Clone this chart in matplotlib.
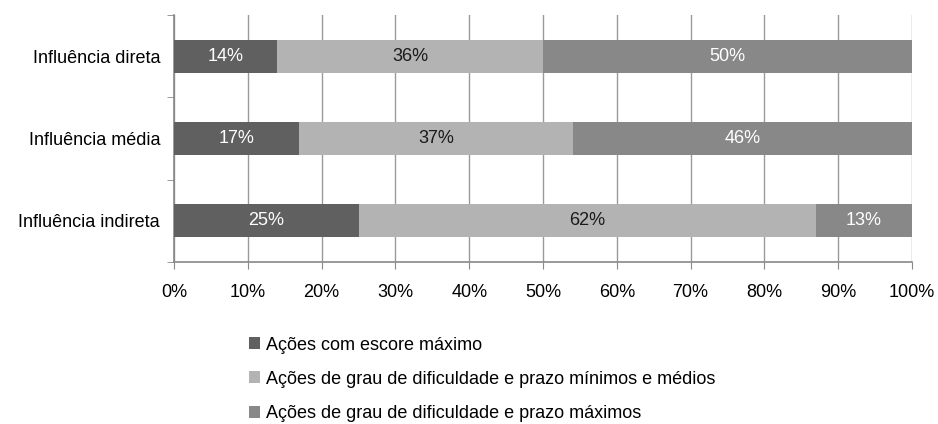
import numpy as np
import matplotlib.pyplot as plt
from matplotlib.patches import Patch

plt.rcParams['font.family'] = ['Liberation Sans', 'DejaVu Sans']

categorias = ['Influência indireta', 'Influência média', 'Influência direta']
escore_max = [25, 17, 14]
min_medios = [62, 37, 36]
prazo_max = [13, 46, 50]
series = ['Ações com escore máximo',
          'Ações de grau de dificuldade e prazo mínimos e médios',
          'Ações de grau de dificuldade e prazo máximos']
cores = ['#606060', '#B3B3B3', '#888888']
cor_texto = ['white', '#1a1a1a', 'white']

fig = plt.figure(figsize=(9.38, 4.24), dpi=100)
ax = fig.add_axes([174 / 938, 1 - 262 / 424, (912 - 174) / 938, (262 - 15) / 424])

y = np.arange(len(categorias))
esq = np.zeros(len(categorias))
for vals, cor, ct in zip([escore_max, min_medios, prazo_max], cores, cor_texto):
    vals = np.array(vals, dtype=float)
    ax.barh(y, vals, left=esq, height=0.4, color=cor, zorder=3)
    for yi, l, v in zip(y, esq, vals):
        ax.text(l + v / 2, yi, f'{v:.0f}%', ha='center', va='center',
                color=ct, fontsize=13, zorder=4)
    esq += vals

ax.set_xlim(0, 100)
ax.set_ylim(-0.5, 2.5)
ax.set_xticks(np.arange(0, 101, 10))
ax.set_xticklabels([f'{t}%' for t in range(0, 101, 10)], fontsize=13)
ax.set_yticks(y)
ax.set_yticklabels(categorias, fontsize=13)
ax.set_yticks([-0.5, 0.5, 1.5, 2.5], minor=True)
ax.tick_params(axis='y', which='major', length=0, pad=10)
ax.tick_params(axis='y', which='minor', length=5, color='#888888')
ax.tick_params(axis='x', length=5, color='#888888', pad=11)
ax.grid(axis='x', color='#9a9a9a', linewidth=1, zorder=0)
for s in ['top', 'right']:
    ax.spines[s].set_visible(False)
for s in ['left', 'bottom']:
    ax.spines[s].set_color('#888888')
    ax.spines[s].set_linewidth(1.2)

handles = [Patch(facecolor=c, edgecolor='none') for c in cores]
fig.legend(handles, series, loc='upper left', bbox_to_anchor=(236 / 938, 1 - 324 / 424),
           frameon=False, fontsize=13, handlelength=0.65, handleheight=0.65,
           handletextpad=0.3, labelspacing=0.95, borderpad=0.2)

fig.savefig('out.png', dpi=100)
